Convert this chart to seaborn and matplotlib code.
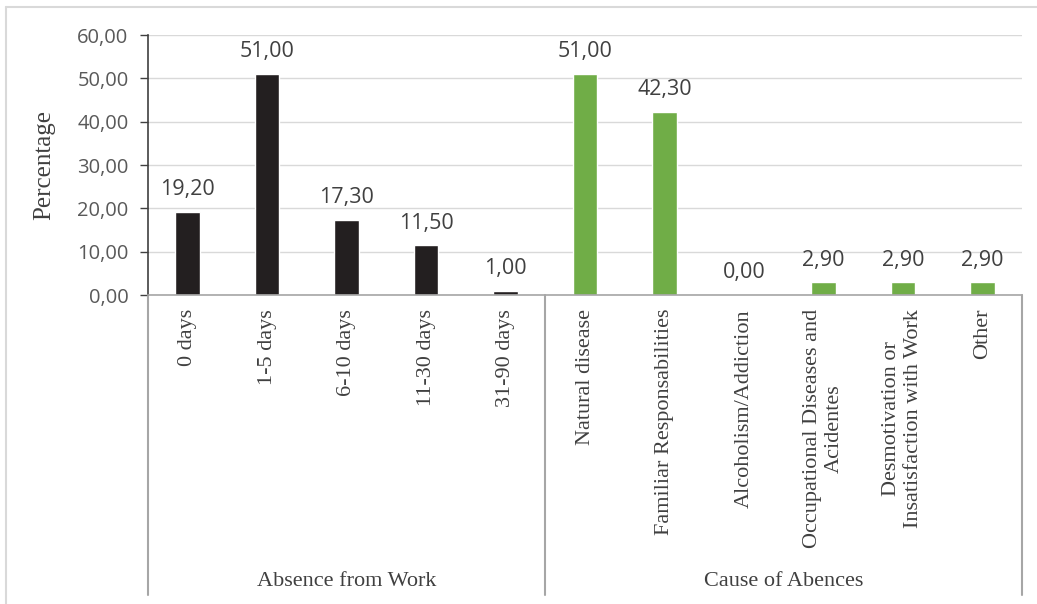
import matplotlib
matplotlib.use("Agg")
import matplotlib.pyplot as plt
from matplotlib.lines import Line2D
import seaborn as sns
import pandas as pd

# Data
absence_labels = ["0 days", "1-5 days", "6-10 days", "11-30 days", "31-90 days"]
absence_values = [19.20, 51.00, 17.30, 11.50, 1.00]

cause_labels = [
    "Natural disease",
    "Familiar Responsabilities",
    "Alcoholism/Addiction",
    "Occupational Diseases and\nAcidentes",
    "Desmotivation or\nInsatisfaction with Work",
    "Other",
]
cause_values = [51.00, 42.30, 0.00, 2.90, 2.90, 2.90]

group_names = ["Absence from Work", "Cause of Abences"]
y_ticks = [0, 10, 20, 30, 40, 50, 60]

df = pd.DataFrame({
    "category": absence_labels + cause_labels,
    "value": absence_values + cause_values,
    "group": [group_names[0]] * len(absence_labels) + [group_names[1]] * len(cause_labels),
})

sns.set_style("white")
serif = "Liberation Serif"
sans = "Open Sans"

W, H = 1037, 604
fig = plt.figure(figsize=(W / 100, H / 100), dpi=100)
ax = fig.add_axes([148 / W, 1 - 295 / H, (1022 - 148) / W, 260 / H])

sns.barplot(
    data=df, x="category", y="value", hue="group",
    palette={group_names[0]: "#231f20", group_names[1]: "#70ad47"},
    dodge=False, width=0.31, legend=False, ax=ax, saturation=1,
)

ax.set_ylim(0, 60)
ax.set_xlim(-0.5, len(df) - 0.5)
ax.set_yticks(y_ticks)
ax.set_yticklabels([f"{v:.2f}".replace(".", ",") for v in y_ticks],
                   family=sans, fontsize=14.5, color="#595959")
ax.yaxis.grid(True, color="#d9d9d9", linewidth=1)
ax.set_axisbelow(True)
ax.tick_params(axis="y", which="major", direction="out", length=6, width=1,
               color="#404040", pad=8, left=True)
ax.tick_params(axis="x", length=0, pad=10)

ax.set_xticks(range(len(df)))
ax.set_xticklabels(df["category"], rotation=90, family=serif, fontsize=16,
                   color="#404040", ha="center", va="top", multialignment="center")

for side in ("top", "right"):
    ax.spines[side].set_visible(False)
ax.spines["left"].set_color("#404040")
ax.spines["left"].set_linewidth(1.2)
ax.spines["bottom"].set_color("#a6a6a6")
ax.spines["bottom"].set_linewidth(1.2)

ax.set_xlabel("")
ax.set_ylabel("Percentage", family=serif, fontsize=18, color="#404040", labelpad=16)

# Value labels above each bar
for i, v in enumerate(df["value"]):
    ax.annotate(f"{v:.2f}".replace(".", ","), (i, v), xytext=(0, 12),
                textcoords="offset points", ha="center", va="baseline",
                family=sans, fontsize=15.5, color="#404040")

# Group separators and group names below the category labels
trans = ax.get_xaxis_transform()
bottom = -(595 - 295) / 260
n_abs = len(absence_labels)
for xpos in (-0.5, n_abs - 0.5, len(df) - 0.5):
    ax.add_line(Line2D([xpos, xpos], [0, bottom], transform=trans, color="#a6a6a6",
                       linewidth=1.5, clip_on=False))
label_y = -(582 - 295) / 260
ax.text((n_abs - 1) / 2, label_y, group_names[0], transform=trans, ha="center",
        va="center", family=serif, fontsize=16, color="#404040")
ax.text((n_abs + len(df) - 1) / 2, label_y, group_names[1], transform=trans,
        ha="center", va="center", family=serif, fontsize=16, color="#404040")

# Light frame around the chart area
fig.add_artist(Line2D([6 / W, 1], [1 - 7 / H, 1 - 7 / H], transform=fig.transFigure,
                      color="#d9d9d9", linewidth=1.5))
fig.add_artist(Line2D([6 / W, 6 / W], [0, 1 - 7 / H], transform=fig.transFigure,
                      color="#d9d9d9", linewidth=1.5))

fig.savefig("out.png", dpi=100)
